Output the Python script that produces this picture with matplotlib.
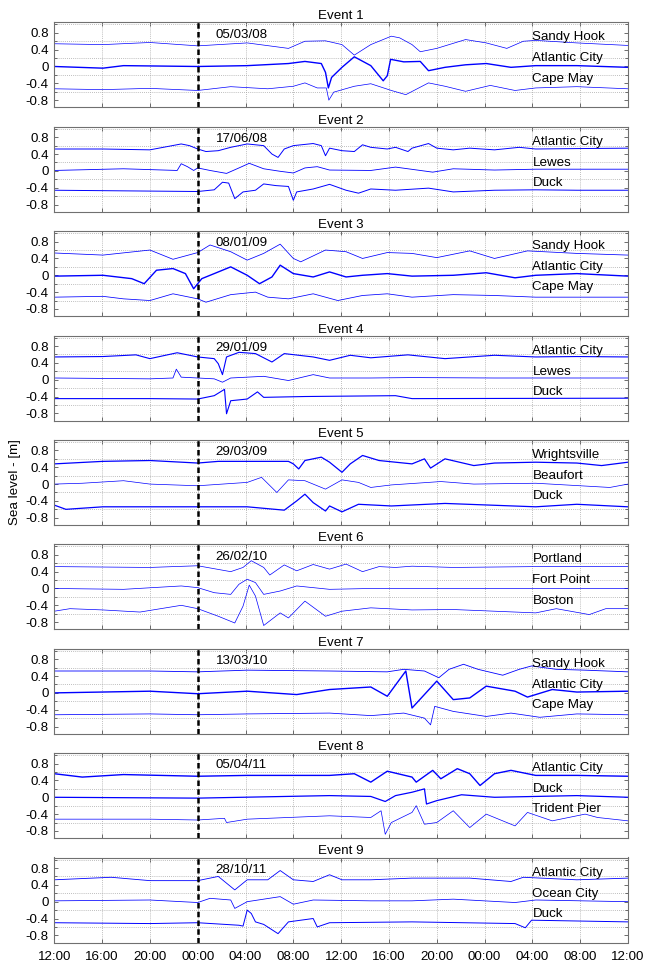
import matplotlib
matplotlib.use("Agg")
import matplotlib.pyplot as plt
from matplotlib.ticker import MultipleLocator, FixedLocator

plt.rcParams['font.family'] = ['Liberation Sans', 'DejaVu Sans']

# ---- event metadata ----
event_titles = [f"Event {i}" for i in range(1, 10)]
event_dates = ["05/03/08", "17/06/08", "08/01/09", "29/01/09", "29/03/09",
               "26/02/10", "13/03/10", "05/04/11", "28/10/11"]
station_names = [
    ["Sandy Hook", "Atlantic City", "Cape May"],
    ["Atlantic City", "Lewes", "Duck"],
    ["Sandy Hook", "Atlantic City", "Cape May"],
    ["Atlantic City", "Lewes", "Duck"],
    ["Wrightsville", "Beaufort", "Duck"],
    ["Portland", "Fort Point", "Boston"],
    ["Sandy Hook", "Atlantic City", "Cape May"],
    ["Atlantic City", "Duck", "Trident Pier"],
    ["Atlantic City", "Ocean City", "Duck"],
]
x_tick_hours = list(range(0, 49, 4))
x_tick_labels = ["12:00", "16:00", "20:00", "00:00", "04:00", "08:00", "12:00",
                 "16:00", "20:00", "00:00", "04:00", "08:00", "12:00"]
y_tick_values = [0.8, 0.4, 0, -0.4, -0.8]
y_tick_labels = ["0.8", "0.4", "0", "-0.4", "-0.8"]

# ---- sea level records (hours since 12:00 of day before, offset metres) ----
# Event 1
e1_t0 = [0, 4.07, 8, 12, 16.14, 19.59, 20.97, 22.69, 24.07, 25.1, 26.48, 28.2, 28.9,
         29.93, 30.62, 32, 34.41, 36.14, 37.86, 39.24, 40.28, 43.72, 48]
e1_v0 = [0.54, 0.52, 0.57, 0.49, 0.56, 0.43, 0.60, 0.61, 0.52, 0.27, 0.52, 0.72, 0.68,
         0.52, 0.35, 0.43, 0.64, 0.56, 0.43, 0.60, 0.62, 0.56, 0.50]
e1_t1 = [0, 4.07, 5.79, 12, 16.14, 19.59, 20.97, 22.34, 22.69, 22.93, 23.2, 24.07, 25.1,
         26.48, 27.52, 27.86, 28.14, 29.24, 30.62, 31.31, 32.69, 34.41, 36.14, 38.21,
         40.28, 43.72, 48]
e1_v1 = [0, -0.04, 0.02, 0, 0.02, 0.07, 0.12, 0.07, -0.14, -0.51, -0.26, -0.02, 0.23,
         0.02, -0.34, -0.22, 0.17, 0.11, 0.12, -0.10, -0.02, 0.04, 0.07, -0.02,
         0.02, 0.02, -0.02]
e1_t2 = [0, 4.07, 8, 12, 14.76, 17.86, 20, 20.97, 22, 22.76, 22.97, 23.38, 25.1, 26.48,
         28.2, 29.41, 31.31, 32.69, 34.41, 36.48, 38.55, 40.28, 43.72, 48]
e1_v2 = [-0.53, -0.55, -0.52, -0.57, -0.48, -0.53, -0.47, -0.39, -0.51, -0.51, -0.80,
         -0.61, -0.47, -0.41, -0.57, -0.67, -0.39, -0.47, -0.59, -0.45, -0.57, -0.51,
         -0.48, -0.53]

# Event 2
e2_t0 = [0, 4.07, 8, 10.62, 11.31, 12, 12.69, 13.72, 14.76, 16.14, 17.52, 18.21, 18.72,
         19.24, 20, 21.66, 22.34, 22.69, 23.03, 24.07, 25.1, 25.79, 26.48, 27.86, 28.55,
         29.59, 29.93, 31.31, 32, 33.38, 34.76, 36.83, 38.9, 40.28, 43.72, 48]
e2_v0 = [0.52, 0.52, 0.50, 0.64, 0.60, 0.52, 0.46, 0.48, 0.56, 0.64, 0.60, 0.40, 0.32,
         0.52, 0.60, 0.65, 0.60, 0.36, 0.54, 0.48, 0.46, 0.62, 0.56, 0.52, 0.56,
         0.46, 0.54, 0.65, 0.54, 0.50, 0.54, 0.50, 0.56, 0.52, 0.53, 0.54]
e2_t1 = [0, 5.79, 10.28, 10.62, 11.14, 11.66, 12, 13.03, 14.41, 15.45, 16.31, 17.52,
         18.9, 20, 20.97, 22, 23.03, 26.48, 28.55, 31.66, 33.38, 36.83, 40.28, 48]
e2_v1 = [0.01, 0.05, 0.01, 0.17, 0.10, 0.01, 0.07, 0.01, -0.06, 0.07, 0.18, 0.05,
         -0.01, -0.05, 0.07, 0.10, 0.02, 0.01, 0.09, -0.03, 0.05, 0.02, 0.04, 0.04]
e2_t2 = [0, 8, 12, 13.38, 14.07, 14.59, 15.1, 15.79, 16.83, 17.52, 18.55, 19.59, 20,
         20.28, 21.66, 23.03, 24.41, 25.45, 26.48, 28.55, 31.31, 33.38, 36.83, 40.28,
         43.72, 48]
e2_v2 = [-0.46, -0.48, -0.49, -0.45, -0.27, -0.29, -0.66, -0.50, -0.46, -0.31, -0.35,
         -0.37, -0.70, -0.50, -0.43, -0.32, -0.46, -0.53, -0.43, -0.46, -0.41, -0.50,
         -0.46, -0.45, -0.46, -0.46]

# Event 3
e3_t0 = [0, 4.07, 8, 9.93, 12, 13.03, 14.76, 16.14, 17.52, 18.9, 20, 20.62, 22.69,
         24.41, 25.79, 27.86, 29.93, 32, 34.76, 36.83, 39.59, 43.72, 48]
e3_v0 = [0.53, 0.48, 0.60, 0.38, 0.54, 0.72, 0.56, 0.36, 0.52, 0.74, 0.40, 0.32, 0.60,
         0.56, 0.40, 0.54, 0.52, 0.42, 0.58, 0.40, 0.58, 0.52, 0.48]
e3_t1 = [0, 4.07, 6.48, 7.52, 8.55, 9.93, 10.97, 11.66, 12.34, 13.38, 14.76, 16.14,
         17.17, 18.21, 18.9, 20, 21.66, 23.03, 24.41, 25.79, 27.86, 29.93, 33.38,
         36.14, 38.55, 40.28, 43.72, 48]
e3_v1 = [-0.02, 0, -0.08, -0.20, 0.12, 0.16, 0.04, -0.32, -0.08, 0.04, 0.20, 0,
         -0.20, -0.04, 0.24, 0.04, -0.04, 0.08, -0.04, 0, 0.04, -0.02, 0,
         0.06, -0.06, 0, 0.04, -0.02]
e3_t2 = [0, 4.07, 5.79, 8, 9.93, 12, 12.69, 14.76, 16.83, 17.86, 19.59, 21.66, 23.72,
         25.79, 27.86, 29.93, 33.38, 36.83, 40.28, 48]
e3_v2 = [-0.52, -0.50, -0.56, -0.60, -0.44, -0.56, -0.64, -0.46, -0.40, -0.52, -0.56,
         -0.44, -0.60, -0.48, -0.44, -0.52, -0.46, -0.48, -0.52, -0.52]

# Event 4
e4_t0 = [0, 4.07, 6.83, 8, 10.28, 12, 13.38, 13.72, 14.07, 14.41, 15.45, 16.83, 18.21,
         19.24, 21.66, 23.03, 24.76, 26.48, 29.59, 32.69, 36.83, 40.28, 43.72, 48]
e4_v0 = [0.54, 0.55, 0.59, 0.50, 0.64, 0.54, 0.50, 0.38, 0.12, 0.54, 0.65, 0.62, 0.42,
         0.62, 0.54, 0.46, 0.58, 0.52, 0.59, 0.50, 0.58, 0.54, 0.55, 0.54]
e4_t1 = [0, 8, 9.93, 10.21, 10.62, 12, 13.38, 14.07, 14.76, 17.52, 19.59, 21.66, 23.03,
         26.48, 29.93, 36.83, 48]
e4_v1 = [0.04, 0.02, 0.04, 0.25, 0.06, 0.04, 0.02, -0.06, 0.04, 0.08, -0.02, 0.12, 0.04,
         0.04, 0.05, 0.04, 0.04]
e4_t2 = [0, 8, 12, 13.38, 14.24, 14.41, 14.76, 16.14, 17, 17.52, 20.97, 28.55, 29.93, 48]
e4_v2 = [-0.45, -0.45, -0.46, -0.38, -0.23, -0.81, -0.50, -0.46, -0.29, -0.42, -0.40,
         -0.38, -0.45, -0.44]

# Event 5
e5_t0 = [0, 4.07, 8, 12, 13.72, 19.59, 20, 20.45, 20.97, 22.34, 23.03, 24.07, 24.76,
         25.79, 27.17, 28.55, 29.93, 30.97, 31.48, 32.69, 35.1, 36.83, 40.28, 43.72,
         45.79, 48]
e5_v0 = [0.48, 0.54, 0.56, 0.50, 0.54, 0.54, 0.48, 0.36, 0.56, 0.64, 0.52, 0.28, 0.48,
         0.68, 0.56, 0.52, 0.48, 0.60, 0.38, 0.60, 0.44, 0.50, 0.52, 0.50, 0.44, 0.52]
e5_t1 = [0, 2.34, 5.79, 8, 12, 16.14, 17.34, 18.62, 19.59, 20.97, 22.69, 24.07, 25.45,
         26.48, 28.2, 32.34, 35.1, 40.28, 46.48, 48]
e5_v1 = [0, 0.02, 0.08, 0, -0.04, 0.04, 0.16, -0.20, 0.10, 0.08, -0.12, 0.10, 0.04,
         -0.08, -0.02, 0.06, 0, 0.02, -0.08, 0]
e5_t2 = [0, 0.97, 4.07, 8, 12, 16.14, 19.24, 20.28, 20.97, 21.66, 22.69, 23.03, 24.07,
         25.45, 28.2, 32.69, 40.28, 43.72, 48]
e5_v2 = [-0.50, -0.60, -0.54, -0.54, -0.54, -0.54, -0.62, -0.40, -0.24, -0.44, -0.64,
         -0.52, -0.66, -0.48, -0.52, -0.46, -0.54, -0.48, -0.54]

# Event 6
e6_t0 = [0, 8, 12, 14.76, 15.79, 16.48, 17.52, 18.03, 19.24, 20.28, 21.66, 23.03, 24.41,
         25.79, 27.17, 28.55, 29.93, 33.38, 40.28, 48]
e6_v0 = [0.52, 0.50, 0.54, 0.40, 0.50, 0.66, 0.50, 0.32, 0.56, 0.42, 0.57, 0.46, 0.58,
         0.40, 0.52, 0.50, 0.53, 0.50, 0.52, 0.52]
e6_t1 = [0, 5.79, 10.62, 12, 13.38, 14.76, 15.45, 16.14, 16.83, 17.52, 18.9, 20.28,
         23.03, 26.48, 48]
e6_v1 = [0, -0.02, 0.06, 0.02, -0.10, -0.14, 0.10, 0.22, 0.14, -0.14, -0.06, 0.06,
         -0.02, 0, 0]
e6_t2 = [0, 1.31, 4.07, 7.17, 10.62, 12, 13.72, 15.1, 15.79, 16.31, 16.83, 17.52, 18.9,
         19.59, 20.97, 22.69, 24.07, 26.48, 29.93, 33.38, 40.28, 42.0, 44.76, 46.14, 48]
e6_v2 = [-0.54, -0.48, -0.51, -0.56, -0.40, -0.48, -0.66, -0.82, -0.42, 0.08, -0.18,
         -0.88, -0.58, -0.70, -0.30, -0.66, -0.54, -0.46, -0.51, -0.50, -0.58, -0.48,
         -0.62, -0.48, -0.48]

# Event 7
e7_t0 = [0, 8, 12, 16.14, 23.03, 27.86, 29.24, 30.97, 32.17, 33.03, 34.24, 35.45, 37.52,
         38.9, 39.93, 42.0, 44.41, 48]
e7_v0 = [0.52, 0.52, 0.50, 0.54, 0.52, 0.50, 0.56, 0.52, 0.36, 0.56, 0.68, 0.56, 0.42,
         0.56, 0.64, 0.56, 0.54, 0.50]
e7_t1 = [0, 8, 12, 16.14, 20.28, 23.03, 26.48, 27.86, 29.41, 29.93, 32, 33.38, 34.76,
         36.14, 38.55, 39.59, 41.66, 43.72, 48]
e7_v1 = [0, 0.04, -0.02, 0.04, -0.04, 0.08, 0.14, -0.08, 0.52, -0.36, 0.28, -0.16,
         -0.12, 0.16, 0.04, -0.10, 0.08, 0.02, 0.04]
e7_t2 = [0, 8, 12, 16.14, 23.03, 26.48, 29.24, 30.97, 31.48, 31.83, 33.38, 36.14, 38.21,
         40.62, 43.72, 48]
e7_v2 = [-0.52, -0.50, -0.52, -0.50, -0.48, -0.54, -0.48, -0.60, -0.76, -0.32, -0.44,
         -0.56, -0.48, -0.58, -0.50, -0.52]

# Event 8
e8_t0 = [0, 2.34, 5.79, 12, 16.14, 23.03, 25.1, 26.48, 27.86, 29.93, 30.28, 31.66, 32.34,
         33.72, 34.76, 35.62, 36.83, 38.21, 40.28, 43.72, 48]
e8_v0 = [0.56, 0.48, 0.54, 0.50, 0.52, 0.52, 0.56, 0.36, 0.62, 0.48, 0.36, 0.64, 0.44,
         0.68, 0.56, 0.28, 0.56, 0.64, 0.52, 0.52, 0.50]
e8_t1 = [0, 12, 23.03, 26.48, 27.69, 28.55, 29.93, 30.97, 31.14, 32, 34.07, 36.83,
         43.72, 48]
e8_v1 = [0, -0.02, 0.04, 0.02, -0.10, 0.04, 0.12, 0.20, -0.16, -0.08, 0.06, 0, 0.04, 0]
e8_t2 = [0, 8, 12, 14.24, 14.41, 16.14, 23.03, 26.48, 27.34, 27.69, 28.2, 29.93, 30.28,
         30.97, 32, 33.38, 34.76, 36.14, 38.55, 39.59, 41.66, 44.41, 45.45, 48]
e8_v2 = [-0.52, -0.52, -0.54, -0.50, -0.60, -0.52, -0.44, -0.48, -0.32, -0.88, -0.60,
         -0.36, -0.20, -0.64, -0.60, -0.32, -0.72, -0.40, -0.68, -0.36, -0.56, -0.40,
         -0.48, -0.56]

# Event 9
e9_t0 = [0, 4.76, 8, 12, 13.72, 15.1, 16.14, 17.86, 18.9, 20, 21.66, 23.03, 24.07, 26.48,
         29.93, 34.76, 38.21, 39.24, 43.72, 48]
e9_v0 = [0.52, 0.58, 0.50, 0.50, 0.60, 0.28, 0.52, 0.52, 0.74, 0.52, 0.48, 0.64, 0.52,
         0.52, 0.56, 0.56, 0.48, 0.58, 0.52, 0.56]
e9_t1 = [0, 8, 12, 13.03, 14.76, 15.1, 16.14, 18.9, 20, 21.66, 26.48, 29.93, 33.38,
         38.55, 40.28, 48]
e9_v1 = [0.02, 0.04, -0.02, 0.08, 0.04, -0.16, 0, 0.12, -0.06, 0.04, 0.02, 0.02, 0.06,
         -0.02, 0.04, 0]
e9_t2 = [0, 8, 12, 15.45, 15.79, 16.14, 16.48, 16.83, 17.52, 18.72, 19.59, 21.66, 22,
         23.03, 29.93, 38.55, 39.41, 39.93, 48]
e9_v2 = [-0.50, -0.52, -0.50, -0.56, -0.58, -0.20, -0.28, -0.48, -0.54, -0.76, -0.48,
         -0.40, -0.60, -0.50, -0.48, -0.52, -0.62, -0.44, -0.48]

records = [
    [(e1_t0, e1_v0), (e1_t1, e1_v1), (e1_t2, e1_v2)],
    [(e2_t0, e2_v0), (e2_t1, e2_v1), (e2_t2, e2_v2)],
    [(e3_t0, e3_v0), (e3_t1, e3_v1), (e3_t2, e3_v2)],
    [(e4_t0, e4_v0), (e4_t1, e4_v1), (e4_t2, e4_v2)],
    [(e5_t0, e5_v0), (e5_t1, e5_v1), (e5_t2, e5_v2)],
    [(e6_t0, e6_v0), (e6_t1, e6_v1), (e6_t2, e6_v2)],
    [(e7_t0, e7_v0), (e7_t1, e7_v1), (e7_t2, e7_v2)],
    [(e8_t0, e8_v0), (e8_t1, e8_v1), (e8_t2, e8_v2)],
    [(e9_t0, e9_v0), (e9_t1, e9_v1), (e9_t2, e9_v2)],
]

# heavier strokes for the noisier gauges
line_widths = [
    [0.5, 1.0, 0.5],
    [0.7, 0.6, 0.7],
    [0.55, 1.0, 0.55],
    [0.8, 0.55, 0.8],
    [0.9, 0.5, 0.9],
    [0.5, 0.5, 0.5],
    [0.6, 1.0, 0.55],
    [1.0, 0.9, 0.5],
    [0.6, 0.55, 0.7],
]

# ---- layout (pixels on a 646 x 967 canvas) ----
W, H = 646, 967
fig = plt.figure(figsize=(W / 100, H / 100), dpi=100)
left_px, right_px = 54.3, 628.0
top0_px, panel_h_px, period_px = 22.3, 85.0, 104.4

label_y = [0.69, 0.19, -0.29]
grid_kw = dict(color="#a8a8a8", linestyle=(0, (1, 1.5)), linewidth=0.6)
fs = 9.6

for k in range(9):
    top = top0_px + k * period_px
    ax = fig.add_axes([left_px / W, 1 - (top + panel_h_px) / H,
                       (right_px - left_px) / W, panel_h_px / H])
    ax.set_xlim(0, 48)
    ax.set_ylim(-0.97, 1.05)

    for (t, v), lw in zip(records[k], line_widths[k]):
        ax.plot(t, v, color="#0000ff", linewidth=lw)

    ax.axvline(12, color="black", linewidth=1.8, linestyle=(0, (2.2, 1.3)))

    ax.xaxis.set_major_locator(FixedLocator(x_tick_hours))
    ax.yaxis.set_major_locator(FixedLocator(y_tick_values))
    ax.yaxis.set_minor_locator(MultipleLocator(0.2))
    ax.set_yticklabels(y_tick_labels)
    if k == 8:
        ax.set_xticklabels(x_tick_labels)
    else:
        ax.set_xticklabels([])

    ax.grid(True, which="major", axis="x", **grid_kw)
    ax.grid(True, which="minor", axis="y", **grid_kw)
    ax.tick_params(which="both", direction="in", top=True, right=True,
                   labelsize=fs, length=3, width=0.6, color="#555555", pad=4)
    ax.tick_params(axis="x", pad=6)
    ax.tick_params(which="minor", length=2)
    for sp in ax.spines.values():
        sp.set_color("#707070")
        sp.set_linewidth(0.8)
    ax.set_axisbelow(True)

    ax.set_title(event_titles[k], fontsize=fs, pad=2)
    ax.text(13.5, 0.76, event_dates[k], fontsize=fs, va="center", ha="left")
    for name, yy in zip(station_names[k], label_y):
        ax.text(40.0, yy, name, fontsize=fs, va="center", ha="left")

    if k == 4:
        ax.set_ylabel("Sea level - [m]", fontsize=fs, labelpad=3)

fig.savefig("out.png", dpi=100)
